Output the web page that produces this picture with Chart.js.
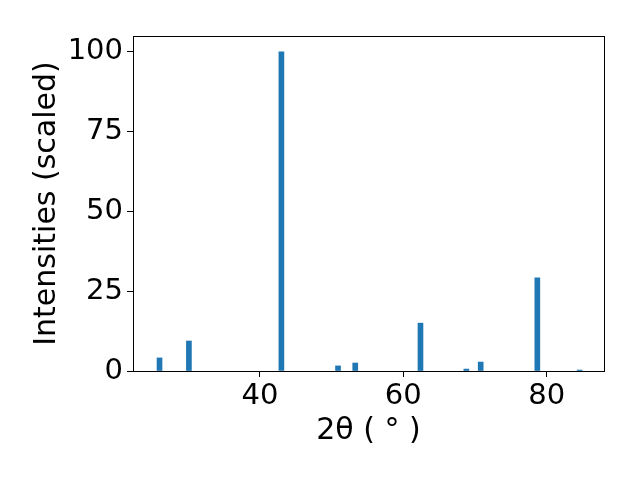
<!DOCTYPE html>
<html>
<head>
  <meta charset="UTF-8" />
  <script src="https://cdn.jsdelivr.net/npm/chart.js"></script>
  <style>
    body { margin: 0; background: #fff; }
    #wrap { width: 640px; height: 480px; }
  </style>
</head>
<body>
  <div id="wrap"><canvas id="xrd"></canvas></div>
  <script>
    // peak positions (2θ, degrees) and scaled intensities
    const twoTheta = [26.0, 30.1, 43.0, 50.9, 53.3, 62.4, 68.8, 70.8, 78.7, 84.6];
    const intensity = [4.1, 9.4, 100, 1.6, 2.5, 15.0, 0.6, 2.8, 29.2, 0.3];
    const xTicks = [40, 60, 80];
    const yTicks = [0, 25, 50, 75, 100];

    const font = { family: "DejaVu Sans", size: 29 };
    const titleFont = { family: "DejaVu Sans", size: 30 };

    // box around plot area (matplotlib style)
    const frame = {
      id: "frame",
      afterDraw(chart) {
        const a = chart.chartArea, c = chart.ctx;
        c.save();
        c.strokeStyle = "#000";
        c.lineWidth = 1;
        c.strokeRect(a.left + 0.5, a.top + 0.5, a.right - a.left, a.bottom - a.top);
        c.restore();
      }
    };

    new Chart(document.getElementById("xrd"), {
      type: "bar",
      data: {
        datasets: [{
          data: twoTheta.map((t, i) => ({ x: t, y: intensity[i] })),
          backgroundColor: "#1f77b4",
          barThickness: 5
        }]
      },
      options: {
        responsive: true,
        maintainAspectRatio: false,
        animation: false,
        layout: { padding: { top: 36, right: 36, left: 0, bottom: 0 } },
        plugins: { legend: { display: false }, tooltip: { enabled: false } },
        scales: {
          x: {
            type: "linear",
            offset: false,
            min: 22.3,
            max: 88,
            afterBuildTicks: s => { s.ticks = xTicks.map(v => ({ value: v })); },
            afterFit: s => { s.height = 109; },
            grid: { drawOnChartArea: false, offset: false, tickLength: 6, color: "#000" },
            border: { color: "#000" },
            ticks: { font, color: "#000", padding: 2, maxRotation: 0 },
            title: { display: true, text: "2θ ( ° )", font: titleFont, color: "#000", padding: { top: 0, bottom: 31 } }
          },
          y: {
            min: 0,
            max: 105,
            afterBuildTicks: s => { s.ticks = yTicks.map(v => ({ value: v })); },
            afterFit: s => { s.width = 133; },
            grid: { drawOnChartArea: false, tickLength: 6, color: "#000" },
            border: { color: "#000" },
            ticks: { font, color: "#000", padding: 4 },
            title: { display: true, text: "Intensities (scaled)", font: titleFont, color: "#000", padding: { top: 29, bottom: 0 } }
          }
        }
      },
      plugins: [frame]
    });
  </script>
</body>
</html>
